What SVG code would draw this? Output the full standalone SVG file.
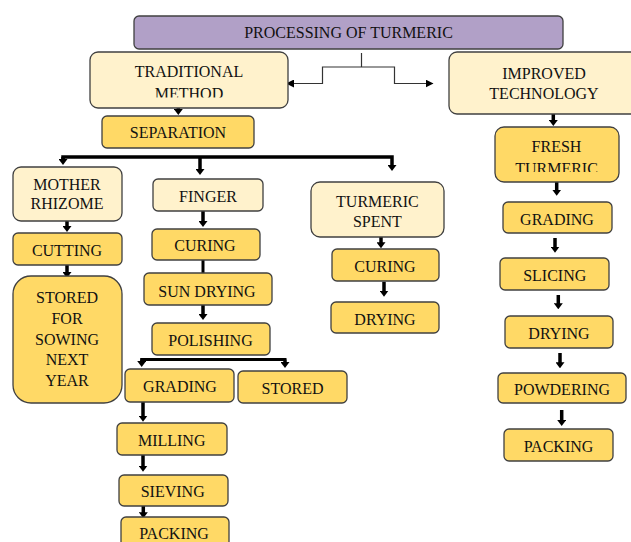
<svg xmlns="http://www.w3.org/2000/svg" width="631" height="542" viewBox="0 0 631 542">
<style>
  text { font-family: "Liberation Serif", "Times New Roman", serif; font-size: 16px; fill: #111; text-anchor: middle; }
  .box { stroke: #404040; stroke-width: 1.3; }
  .title { fill: #B1A0C7; }
  .cream { fill: #FFF2CC; }
  .gold { fill: #FFD966; }
  .thin { fill: none; stroke: #333; stroke-width: 1.2; }
  .thick { fill: none; stroke: #000; stroke-width: 3.5; }
  .med { fill: none; stroke: #000; stroke-width: 3; }
</style>
<defs>
  <marker id="ah" viewBox="0 0 6 9" markerWidth="6" markerHeight="9" refX="2" refY="4.5" orient="auto" markerUnits="userSpaceOnUse">
    <path d="M0,0 L6,4.5 L0,9 z" fill="#000"/>
  </marker>
  <marker id="ahs" viewBox="0 0 8 8" markerWidth="8" markerHeight="8" refX="7" refY="4" orient="auto-start-reverse" markerUnits="userSpaceOnUse">
    <path d="M0,0 L8,4 L0,8 z" fill="#000"/>
  </marker>
  <clipPath id="clipMethod"><rect x="90" y="52" width="198" height="45.5"/></clipPath>
  <clipPath id="clipFresh"><rect x="495" y="127" width="124" height="45"/></clipPath>
</defs>

<g id="connectors">
  <path class="thin" d="M361.5,53 V67"/>
  <path class="thin" d="M287,83.5 H322.5 V67 H394.5 V83.5 H432.5" marker-start="url(#ahs)" marker-end="url(#ahs)"/>
  <path class="thick" d="M178.3,100 V111" marker-end="url(#ah)"/>
  <path class="thick" d="M63,161 V157 H392 V167" marker-end="url(#ah)"/>
  <path class="thick" d="M63,157 V161" marker-end="url(#ah)"/>
  <path class="thick" d="M200,157 V171" marker-end="url(#ah)"/>
  <path class="thick" d="M67,221 V228" marker-end="url(#ah)"/>
  <path class="thick" d="M67,265 V274" marker-end="url(#ah)"/>
  <path class="thick" d="M203,211 V223" marker-end="url(#ah)"/>
  <path class="med" d="M203,260 V273"/>
  <path class="thick" d="M203,305 V316" marker-end="url(#ah)"/>
  <path class="med" d="M141.7,363 V359.5 H285 V364"/>
  <path class="med" d="M141.7,359.5 V363" marker-end="url(#ah)"/>
  <path class="med" d="M285,359.5 V364" marker-end="url(#ah)"/>
  <path class="thick" d="M143,402 V417.7" marker-end="url(#ah)"/>
  <path class="thick" d="M143,455 V467.7" marker-end="url(#ah)"/>
  <path class="thick" d="M143.3,505.7 V514.3" marker-end="url(#ah)"/>
  <path class="thick" d="M381,237 V244.3" marker-end="url(#ah)"/>
  <path class="thick" d="M384,281.7 V292.7" marker-end="url(#ah)"/>
  <path class="thick" d="M553.3,114 V122" marker-end="url(#ah)"/>
  <path class="thick" d="M556.7,182 V191.7" marker-end="url(#ah)"/>
  <path class="thick" d="M555,238 V248.7" marker-end="url(#ah)"/>
  <path class="thick" d="M558.3,295 V305.3" marker-end="url(#ah)"/>
  <path class="thick" d="M560,353 V364.3" marker-end="url(#ah)"/>
  <path class="thick" d="M561.7,410 V422" marker-end="url(#ah)"/>
</g>

<g id="title">
  <rect class="box title" x="134" y="16" width="429" height="33" rx="5"/>
  <text x="348.5" y="37.5">PROCESSING OF TURMERIC</text>
</g>
<g id="traditional">
  <rect class="box cream" x="90" y="52" width="198" height="56" rx="8"/>
  <text x="189" y="77">TRADITIONAL</text>
  <text x="189" y="99" clip-path="url(#clipMethod)">METHOD</text>
</g>
<g id="improved">
  <rect class="box cream" x="449" y="52" width="190" height="62" rx="8"/>
  <text x="544" y="79">IMPROVED</text>
  <text x="544" y="99">TECHNOLOGY</text>
</g>
<g id="separation">
  <rect class="box gold" x="102" y="116" width="152" height="32" rx="5"/>
  <text x="178" y="138">SEPARATION</text>
</g>
<g id="mother-rhizome">
  <rect class="box cream" x="13" y="167" width="109" height="54" rx="8"/>
  <text x="67" y="190">MOTHER</text>
  <text x="67" y="208.5">RHIZOME</text>
</g>
<g id="cutting">
  <rect class="box gold" x="13" y="233" width="109" height="32" rx="5"/>
  <text x="67" y="256">CUTTING</text>
</g>
<g id="stored-sowing">
  <rect class="box gold" x="13" y="276" width="109" height="127" rx="18"/>
  <text x="67" y="303">STORED</text>
  <text x="67" y="324">FOR</text>
  <text x="67" y="344.5">SOWING</text>
  <text x="67" y="365">NEXT</text>
  <text x="67" y="386">YEAR</text>
</g>
<g id="finger">
  <rect class="box cream" x="153" y="179" width="110" height="32" rx="5"/>
  <text x="208" y="202">FINGER</text>
</g>
<g id="curing-finger">
  <rect class="box gold" x="152" y="229" width="108" height="31" rx="5"/>
  <text x="205" y="250.7">CURING</text>
</g>
<g id="sun-drying">
  <rect class="box gold" x="144" y="273" width="128" height="32" rx="5"/>
  <text x="207" y="296.5">SUN DRYING</text>
</g>
<g id="polishing">
  <rect class="box gold" x="152" y="323" width="118" height="32" rx="5"/>
  <text x="210.5" y="346">POLISHING</text>
</g>
<g id="grading-left">
  <rect class="box gold" x="125" y="369" width="109" height="33" rx="5"/>
  <text x="180" y="391.7">GRADING</text>
</g>
<g id="stored">
  <rect class="box gold" x="238" y="371" width="109" height="32" rx="5"/>
  <text x="292.5" y="393.5">STORED</text>
</g>
<g id="milling">
  <rect class="box gold" x="117" y="423" width="110" height="32" rx="5"/>
  <text x="171.7" y="445.5">MILLING</text>
</g>
<g id="sieving">
  <rect class="box gold" x="119" y="475" width="109" height="31" rx="5"/>
  <text x="172.7" y="496.5">SIEVING</text>
</g>
<g id="packing-left">
  <rect class="box gold" x="121" y="517" width="108" height="40" rx="5"/>
  <text x="174" y="538.5">PACKING</text>
</g>
<g id="turmeric-spent">
  <rect class="box cream" x="311" y="182" width="133" height="55" rx="9"/>
  <text x="377.4" y="206.7">TURMERIC</text>
  <text x="377.4" y="226.5">SPENT</text>
</g>
<g id="curing-spent">
  <rect class="box gold" x="332" y="249" width="107" height="32" rx="5"/>
  <text x="385" y="272.3">CURING</text>
</g>
<g id="drying-spent">
  <rect class="box gold" x="331" y="302" width="108" height="31" rx="5"/>
  <text x="385" y="324.5">DRYING</text>
</g>
<g id="fresh-turmeric">
  <rect class="box gold" x="495" y="127" width="124" height="55" rx="9"/>
  <text x="556.5" y="151.7">FRESH</text>
  <text x="556.5" y="173.5" clip-path="url(#clipFresh)">TURMERIC</text>
</g>
<g id="grading-right">
  <rect class="box gold" x="503" y="202" width="109" height="31" rx="5"/>
  <text x="557" y="224.5">GRADING</text>
</g>
<g id="slicing">
  <rect class="box gold" x="500" y="258" width="109" height="32" rx="5"/>
  <text x="554.7" y="281">SLICING</text>
</g>
<g id="drying-right">
  <rect class="box gold" x="505" y="316" width="108" height="32" rx="5"/>
  <text x="559" y="338.5">DRYING</text>
</g>
<g id="powdering">
  <rect class="box gold" x="498" y="373" width="128" height="30" rx="5"/>
  <text x="562" y="395">POWDERING</text>
</g>
<g id="packing-right">
  <rect class="box gold" x="504" y="429" width="109" height="32" rx="5"/>
  <text x="558.5" y="451.7">PACKING</text>
</g>
</svg>
